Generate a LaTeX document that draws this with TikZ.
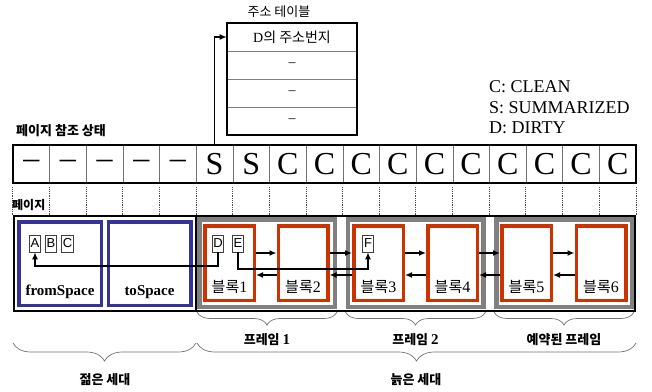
\documentclass[tikz,border=0pt]{standalone}
\usepackage{fontspec}
\setmainfont{Liberation Serif}
\setsansfont{Liberation Sans}
\newfontfamily\kor{Noto Sans CJK KR}
\usetikzlibrary{arrows.meta, positioning, decorations.pathreplacing}
\definecolor{spblue}{RGB}{51,51,153}
\definecolor{blkred}{RGB}{204,51,0}
\tikzset{
  cell/.style = {
    draw=black!55, line width=0.6pt,
    minimum width=36.65pt, minimum height=38pt, inner sep=0pt,
    font=\fontsize{32}{32}\selectfont
  },
  trow/.style = {
    draw=black!50, line width=0.6pt,
    minimum width=130pt, minimum height=28pt, inner sep=0pt,
    font=\fontsize{14}{16}\selectfont
  },
  space/.style = {
    draw=spblue, line width=3.5pt, fill=white,
    minimum width=82.5pt, minimum height=83.5pt, inner sep=0pt
  },
  frm/.style = {
    draw=black!50, line width=4.5pt, fill=white,
    minimum width=135.5pt, minimum height=87.5pt, inner sep=0pt
  },
  blk/.style = {
    draw=blkred, line width=3.5pt, fill=white,
    minimum width=49.5pt, minimum height=74.5pt, inner sep=0pt
  },
  obj/.style = {
    draw=black!75, line width=0.7pt, fill=white,
    minimum width=11.5pt, minimum height=17pt, inner sep=0pt,
    font=\sffamily\fontsize{13}{13}\selectfont
  },
  lbl/.style  = {inner sep=0pt, font=\kor\fontsize{13}{15}\selectfont},
  glbl/.style = {inner sep=0pt, font=\kor\bfseries\fontsize{13}{15}\selectfont},
  blbl/.style = {inner sep=0pt, font=\fontsize{15}{17}\selectfont\bfseries},
  leg/.style  = {inner sep=0pt, anchor=base west, font=\fontsize{18}{20}\selectfont},
  guide/.style = {densely dotted, black!70, line width=0.8pt},
  ptr/.style  = {-{Latex[length=7pt,width=6pt]}, line width=1.3pt},
  fwd/.style  = {-{Latex[length=7pt,width=6pt]}, line width=1.8pt},
  gbrace/.style = {decorate, decoration={brace, amplitude=#1, mirror},
                   draw=black!55, line width=0.7pt}
}
\begin{document}
\begin{tikzpicture}[x=1pt, y=-1pt]
\useasboundingbox (0,0) rectangle (652,391);

% page reference state row
\foreach \t [count=\i from 0] in {--,--,--,--,--,S,S,C,C,C,C,C,C,C,C,C,C}
  \node[cell] (c\i) at ({31.325+36.65*\i},164) {\t};
\draw[line width=2pt] (c0.north west) rectangle (c16.south east);
\node[glbl, anchor=west] (pgstate) at (16,131) {페이지 참조 상태};

% address table
\node[trow] (tr1) at (292,37) {D{\kor 의 주소번지}};
\node[trow] (tr2) at (292,65) {--};
\node[trow] (tr3) at (292,93) {--};
\node[trow] (tr4) at (292,121) {--};
\draw[line width=2pt] (tr1.north west) rectangle (tr4.south east);
\node[lbl] (ttitle) at (279,12) {주소 테이블};
\draw[ptr] (c5.north) |- (tr1.west);

% legend
\node[leg] (legc) at (489,92) {C: CLEAN};
\node[leg] (legs) at (489,113) {S: SUMMARIZED};
\node[leg] (legd) at (489,133) {D: DIRTY};

% heap
\node[draw, line width=1.6pt, minimum width=621.4pt, minimum height=95.4pt] (heap) at (324.5,263.5) {};
\foreach \k in {0,...,16}
  \draw[guide] ([yshift=-4pt]c\k.south west) -- (c\k.south west |- heap.north);
\draw[guide] ([yshift=-4pt]c16.south east) -- (c16.south east |- heap.north);
\node[glbl, anchor=west, font=\kor\bfseries\fontsize{12}{14}\selectfont] (pglbl) at (12,205) {페이지};
\draw[line width=1.2pt] ([xshift=183pt]heap.north west) -- ([xshift=183pt]heap.south west);

% young generation
\node[space] (from) at (60,263.5) {};
\node[space] (to) at (149.5,263.5) {};
\node[blbl] (froml) at ([yshift=15pt]from.south) {fromSpace};
\node[blbl] (tol) at ([yshift=15pt]to.south) {toSpace};

% old generation
\node[frm] (frm1) at (267,263) {};
\node[frm] (frm2) at (415.5,263) {};
\node[frm] (frm3) at (564,263) {};
\foreach \n/\x in {1/229.5, 2/303, 3/378.5, 4/452.5, 5/526.5, 6/601} {
  \node[blk] (blk\n) at (\x,263) {};
  \node[lbl, font=\fontsize{16}{18}\selectfont] (blk\n l) at ([yshift=15pt]blk\n.south) {{\kor\fontsize{15}{17}\selectfont 블록}\n};
}

% objects
\node[obj] (A) at (35,243.5) {A};
\node[obj] (B) at (51,243.5) {B};
\node[obj] (C) at (67.5,243.5) {C};
\node[obj] (D) at (218,243.5) {D};
\node[obj] (E) at (238,243.5) {E};
\node[obj] (F) at (368,243.5) {F};

% block links
\foreach \a/\b in {blk1/blk2, blk2/blk3, blk3/blk4, blk4/blk5, blk5/blk6} {
  \draw[fwd] ([yshift=10pt]\a.east) -- ([yshift=10pt]\b.west);
  \draw[fwd] ([yshift=-12pt]\b.west) -- ([yshift=-12pt]\a.east);
}

% pointers
\coordinate (dline) at (0,266);
\coordinate (eline) at (0,269);
\draw[ptr] (D.south) -- (D.south |- dline) -| (A.south);
\draw[ptr] (E.south) -- (E.south |- eline) -| (F.south);

% braces
\foreach \n in {1,2,3}
  \draw[gbrace=13pt] ([yshift=-3pt]frm\n.south west) -- ([yshift=-3pt]frm\n.south east);
\node[glbl] (f1l) at (267,340) {프레임 {\rmfamily\fontsize{15}{15}\selectfont 1}};
\node[glbl] (f2l) at (415.5,340) {프레임 {\rmfamily\fontsize{15}{15}\selectfont 2}};
\node[glbl] (f3l) at (564,340) {예약된 프레임};
\draw[gbrace=18pt] ([yshift=-31pt]heap.south west) -- ([xshift=183pt,yshift=-31pt]heap.south west);
\draw[gbrace=18pt] ([xshift=184pt,yshift=-31pt]heap.south west) -- ([yshift=-31pt]heap.south east);
\node[glbl] (young) at (105,380) {젊은 세대};
\node[glbl] (old) at (416,380) {늙은 세대};
\end{tikzpicture}
\end{document}
